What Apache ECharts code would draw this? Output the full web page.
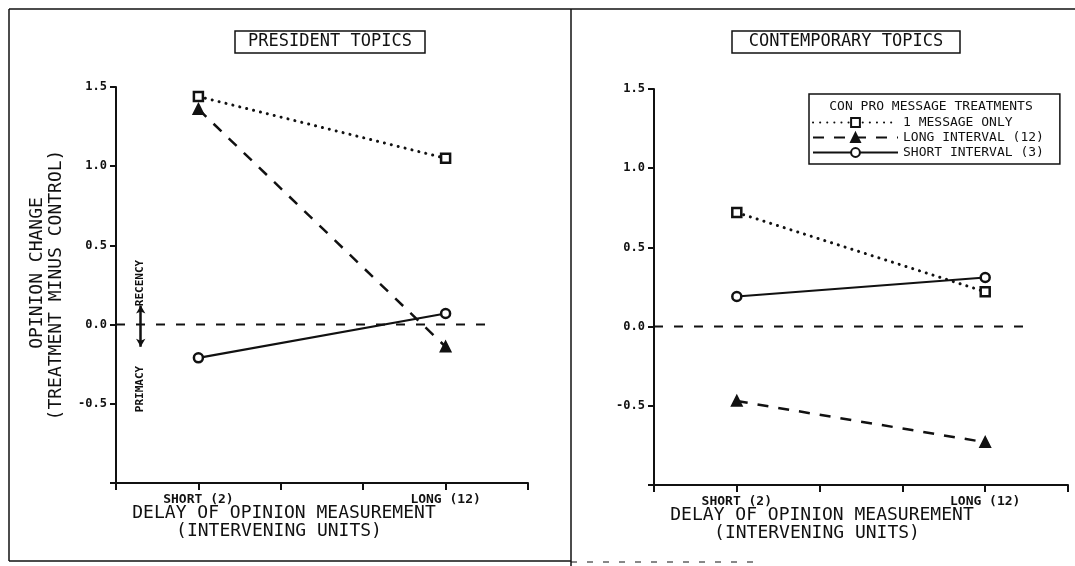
<!DOCTYPE html>
<html>
<head>
<meta charset="utf-8">
<script src="https://cdn.jsdelivr.net/npm/echarts@6/dist/echarts.min.js"></script>
<style>
  html, body { margin: 0; background: #fff; }
  #chart { width: 1075px; height: 566px; }
</style>
</head>
<body>
<div id="chart"></div>
<script>
// x positions of the two delay conditions on the 0..5 axis
const xPositions = [1, 4];
const xTickLabels = ["SHORT (2)", "LONG (12)"];
const seriesNames = ["1 MESSAGE ONLY", "LONG INTERVAL (12)", "SHORT INTERVAL (3)"];

// president topics (left)
const presOneMessage = [1.44, 1.05];
const presLongInterval = [1.36, -0.14];
const presShortInterval = [-0.21, 0.07];

// contemporary topics (right)
const contOneMessage = [0.72, 0.22];
const contLongInterval = [-0.47, -0.73];
const contShortInterval = [0.19, 0.31];

const zeroLineX = [0, 4.5];
const primacyRecencyY = [-0.14, 0.12];
const primacyRecencyX = 0.3;

const FONT = "DejaVu Sans Mono";
const INK = "#111";

const lineStyles = [
  { color: INK, width: 3, type: [0.1, 7], cap: "round" },
  { color: INK, width: 2.5, type: [11, 10] },
  { color: INK, width: 2.2, type: "solid" }
];
const symbols = ["rect", "triangle", "circle"];
const symbolFills = ["#fff", INK, "#fff"];

function pts(values) {
  return xPositions.map((x, i) => [x, values[i]]);
}

function treatmentSeries(idx, values, k) {
  return {
    name: seriesNames[k],
    type: "line",
    xAxisIndex: idx,
    yAxisIndex: idx,
    data: pts(values),
    symbol: symbols[k],
    symbolSize: k === 1 ? 9 : 9,
    lineStyle: lineStyles[k],
    itemStyle: { color: symbolFills[k], borderColor: INK, borderWidth: 2.5 },
    silent: true,
    z: 5
  };
}

function zeroSeries(idx) {
  return {
    type: "line",
    xAxisIndex: idx,
    yAxisIndex: idx,
    data: zeroLineX.map(x => [x, 0]),
    symbol: "none",
    lineStyle: { color: INK, width: 2, type: [9, 11] },
    silent: true,
    z: 3
  };
}

function xAxis(idx) {
  return {
    gridIndex: idx,
    type: "value",
    min: 0,
    max: 5,
    interval: 1,
    axisLine: { show: true, onZero: false, lineStyle: { color: INK, width: 2 } },
    axisTick: { show: true, inside: false, length: 7, lineStyle: { color: INK, width: 2 } },
    axisLabel: {
      margin: 10,
      color: INK,
      fontFamily: FONT,
      fontWeight: "bold",
      fontSize: 13,
      formatter: v => {
        const i = xPositions.indexOf(v);
        return i >= 0 ? xTickLabels[i] : "";
      }
    },
    splitLine: { show: false }
  };
}

function yAxis(idx) {
  return {
    gridIndex: idx,
    type: "value",
    min: -1,
    max: 1.5,
    interval: 0.5,
    axisLine: { show: true, onZero: false, lineStyle: { color: INK, width: 2 } },
    axisTick: { show: true, inside: false, length: 6, lineStyle: { color: INK, width: 2 } },
    axisLabel: {
      margin: 9,
      color: INK,
      fontFamily: FONT,
      fontWeight: "bold",
      fontSize: 12,
      formatter: v => (v === -1 ? "" : v.toFixed(1))
    },
    splitLine: { show: false }
  };
}

function txt(x, y, text, size, extra) {
  return {
    type: "text",
    x: x,
    y: y,
    silent: true,
    style: Object.assign({
      text: text,
      fontFamily: FONT,
      fontSize: size,
      fill: INK,
      align: "center",
      verticalAlign: "middle"
    }, extra || {})
  };
}

function vtxt(x, y, text, size, weight) {
  const t = txt(x, y, text, size, { fontWeight: weight || "normal" });
  t.rotation = Math.PI / 2;
  return t;
}

function hline(x1, x2, y, w, dash) {
  return {
    type: "line", silent: true,
    shape: { x1: x1, y1: y, x2: x2, y2: y },
    style: { stroke: INK, lineWidth: w, lineDash: dash || null }
  };
}
function vline(x, y1, y2, w) {
  return {
    type: "line", silent: true,
    shape: { x1: x, y1: y1, x2: x, y2: y2 },
    style: { stroke: INK, lineWidth: w }
  };
}
function box(x, y, w, h) {
  return {
    type: "rect", silent: true,
    shape: { x: x, y: y, width: w, height: h },
    style: { fill: "none", stroke: INK, lineWidth: 1.5 }
  };
}

const chart = echarts.init(document.getElementById("chart"));

const leftSeries = [presOneMessage, presLongInterval, presShortInterval]
  .map((v, k) => treatmentSeries(0, v, k));
const rightSeries = [contOneMessage, contLongInterval, contShortInterval]
  .map((v, k) => treatmentSeries(1, v, k));

const leftZero = zeroSeries(0);
leftZero.markLine = {
  silent: true,
  symbol: ["arrow", "arrow"],
  symbolSize: [7, 8],
  label: { show: false },
  lineStyle: { color: INK, width: 2.5, type: "solid" },
  data: [[
    { coord: [primacyRecencyX, primacyRecencyY[0]] },
    { coord: [primacyRecencyX, primacyRecencyY[1]] }
  ]]
};

chart.setOption({
  backgroundColor: "#fff",
  animation: false,
  grid: [
    { left: 116, top: 87, width: 412, height: 396, outerBoundsMode: "none" },
    { left: 654, top: 89, width: 414, height: 396, outerBoundsMode: "none" }
  ],
  xAxis: [xAxis(0), xAxis(1)],
  yAxis: [yAxis(0), yAxis(1)],
  legend: {
    data: seriesNames,
    orient: "vertical",
    left: 809,
    top: 94,
    padding: [22, 16, 5, 3],
    itemWidth: 85,
    itemHeight: 11,
    itemGap: 2,
    borderColor: INK,
    borderWidth: 1.5,
    selectedMode: false,
    textStyle: { fontFamily: FONT, fontSize: 13, color: INK }
  },
  graphic: [
    // frame
    hline(9, 1075, 9, 1.5),
    hline(9, 571, 561, 1.5),
    hline(571, 760, 562, 1, [6, 10]),
    vline(9, 9, 561, 1.5),
    vline(571, 9, 566, 1.5),
    // panel titles
    box(235, 31, 190, 22),
    txt(330, 42, "PRESIDENT TOPICS", 17),
    box(732, 31, 228, 22),
    txt(846, 42, "CONTEMPORARY TOPICS", 17),
    // y axis title
    vtxt(37, 273, "OPINION CHANGE", 18),
    vtxt(56, 285, "(TREATMENT MINUS CONTROL)", 18),
    // primacy / recency
    vtxt(140, 283, "RECENCY", 11, "bold"),
    vtxt(140, 389, "PRIMACY", 11, "bold"),
    // x axis titles
    txt(284, 513, "DELAY OF OPINION MEASUREMENT", 18),
    txt(279, 531, "(INTERVENING UNITS)", 18),
    txt(822, 515, "DELAY OF OPINION MEASUREMENT", 18),
    txt(817, 533, "(INTERVENING UNITS)", 18),
    // legend title
    txt(931, 107, "CON PRO MESSAGE TREATMENTS", 13)
  ],
  series: [leftZero, zeroSeries(1)].concat(leftSeries, rightSeries)
});
</script>
</body>
</html>
